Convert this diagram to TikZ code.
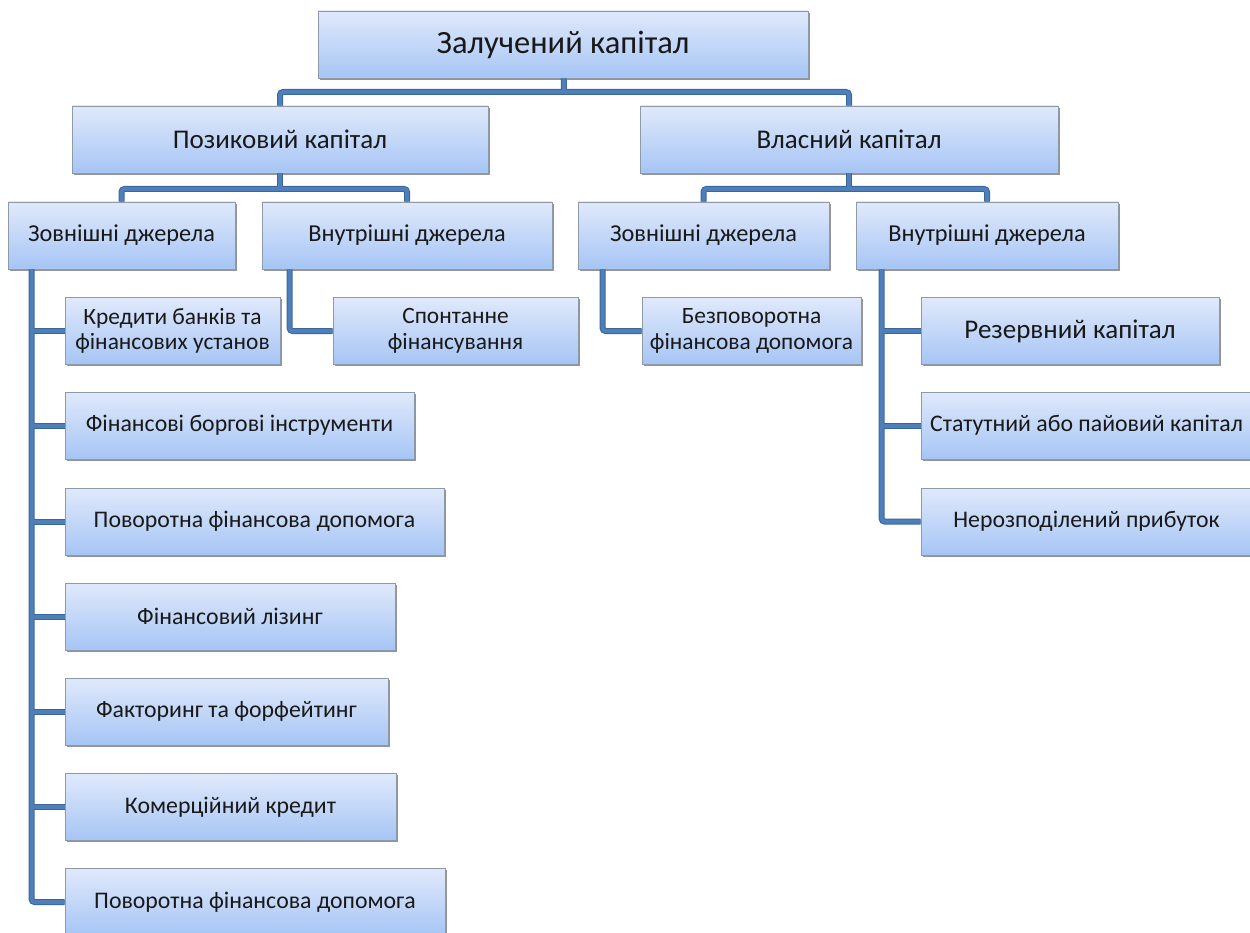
\documentclass[tikz,border=0pt]{standalone}
\usepackage{fontspec}
\setmainfont{Carlito}
\usetikzlibrary{positioning, shadows}
\definecolor{boxtop}{HTML}{E0E9FB}
\definecolor{boxbottom}{HTML}{A6C5F5}
\definecolor{boxline}{HTML}{8F9AA8}
\definecolor{linkedge}{HTML}{3A6698}
\definecolor{linkcore}{HTML}{4F7FBA}

\begin{document}
\begin{tikzpicture}[x=1pt, y=-1pt]
        \tikzstyle{box} = [rectangle, draw=boxline, line width=0.8pt, top color=boxtop, bottom color=boxbottom, minimum height=67pt, inner sep=2pt, align=center, text=black!90, drop shadow={shadow xshift=1.6pt, shadow yshift=-1.6pt, fill=black!70, opacity=0.6}, font=\fontsize{23.8}{27}\selectfont]
        \tikzstyle{twoline} = [font=\fontsize{23.4}{25.5}\selectfont]
        \tikzstyle{edgeline} = [draw=linkedge, line width=6pt, rounded corners=3pt]
        \tikzstyle{coreline} = [draw=linkcore, line width=4pt, rounded corners=3pt]

        \useasboundingbox (0,0) rectangle (1250,933);

        % top levels
        \node[box, minimum width=490pt, font=\fontsize{32.5}{36}\selectfont] (top) at (563,44.5) {Залучений капітал};
        \node[box, minimum width=416pt, font=\fontsize{27}{30}\selectfont] (pk) at (280,139.5) {Позиковий капітал};
        \node[box, minimum width=418pt, font=\fontsize{27}{30}\selectfont] (vk) at (849,139.5) {Власний капітал};

        \node[box, minimum width=227pt, font=\fontsize{24.3}{28}\selectfont] (lz) at (121.5,235.5) {Зовнішні джерела};
        \node[box, minimum width=290pt, font=\fontsize{24.3}{28}\selectfont] (lv) at (407,235.5) {Внутрішні джерела};
        \node[box, minimum width=251pt, font=\fontsize{24.3}{28}\selectfont] (rz) at (703.5,235.5) {Зовнішні джерела};
        \node[box, minimum width=262pt, font=\fontsize{24.3}{28}\selectfont] (rv) at (987,235.5) {Внутрішні джерела};

        % left column
        \node[box, twoline, minimum width=215pt] (lb1) at (172.5,331) {Кредити банків та\\фінансових установ};
        \foreach \i/\y/\w/\txt in {2/425.5/349/Фінансові боргові інструменти, 3/521.5/379/Поворотна фінансова допомога, 4/616.5/330/Фінансовий лізинг, 5/711.5/323/Факторинг та форфейтинг, 6/807/331/Комерційний кредит, 7/902/380/Поворотна фінансова допомога}
            \node[box, minimum width=\w pt] (lb\i) at (65+\w/2,\y) {\txt};

        \node[box, twoline, minimum width=245pt] (sf) at (455.5,331) {Спонтанне\\фінансування};
        \node[box, twoline, minimum width=219pt] (bf) at (751.5,331) {Безповоротна\\фінансова допомога};

        % right column
        \node[box, minimum width=298pt, font=\fontsize{27}{30}\selectfont] (rb1) at (1070,331) {Резервний капітал};
        \node[box, minimum width=331pt] (rb2) at (1086.5,425.5) {Статутний або пайовий капітал};
        \node[box, minimum width=331pt] (rb3) at (1086.5,521.5) {Нерозподілений прибуток};

        \coordinate (j0) at (564,92);
        \coordinate (j1) at (280,189);
        \coordinate (j2) at (849,189);

        \foreach \s in {edgeline, coreline}{
            \draw[\s] (top) -- (j0);
            \draw[\s] (pk.north) |- (j0) -| (vk.north);
            \draw[\s] (pk) -- (j1);
            \draw[\s] (lz.north) |- (j1) -| (lv.north);
            \draw[\s] (vk) -- (j2);
            \draw[\s] (rz.north) |- (j2) -| (rv.north);

            \draw[\s] (lz.south west) ++(24,0) |- (lb7.west);
            \foreach \i in {1,...,6}
                \draw[\s] (lb\i.west) -- ++(-33,0);
            \draw[\s] (lv.south west) ++(28,0) |- (sf.west);
            \draw[\s] (rz.south west) ++(25,0) |- (bf.west);
            \draw[\s] (rv.south west) ++(26,0) |- (rb3.west);
            \draw[\s] (rb1.west) -- ++(-39,0);
            \draw[\s] (rb2.west) -- ++(-39,0);
        }
    
    \end{tikzpicture}
\end{document}
